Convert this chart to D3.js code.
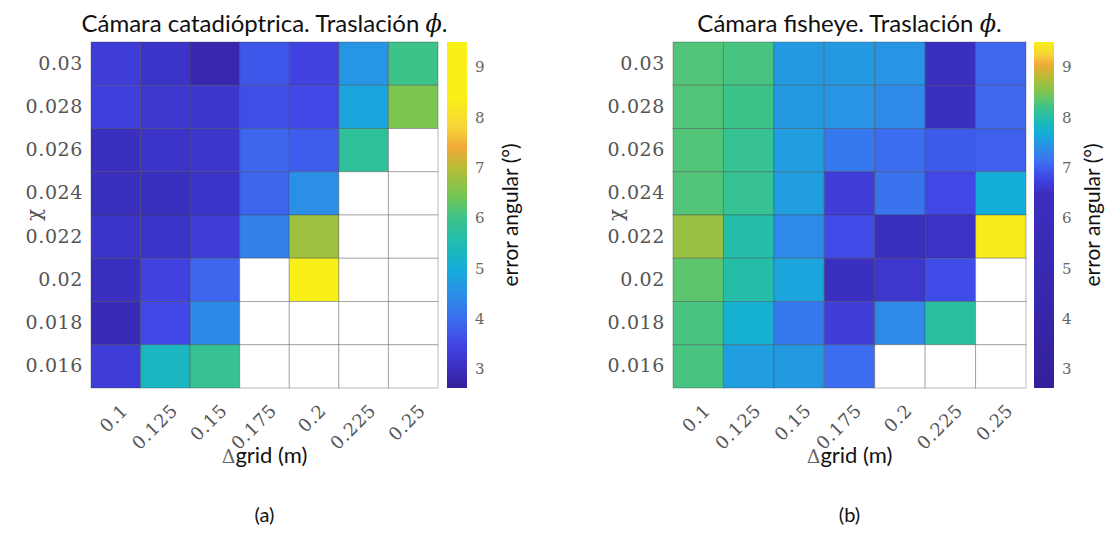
<!DOCTYPE html>
<html>
<head>
<meta charset="utf-8">
<script src="https://cdn.jsdelivr.net/npm/d3@7"></script>
<style>
    body { margin: 0; background: #fff; }
    svg text { font-family: Lato, "Open Sans", sans-serif; }
    .serif text, text.serif { font-family: "DejaVu Serif", "Liberation Serif", serif; }
</style>
</head>
<body>
<div id="chart"></div>
<script>
// categories
var gridSteps = ["0.1", "0.125", "0.15", "0.175", "0.2", "0.225", "0.25"]
var chiLevels = ["0.03", "0.028", "0.026", "0.024", "0.022", "0.02", "0.018", "0.016"]
var colorbarTicks = [3, 4, 5, 6, 7, 8, 9]
var colorbarRange = [2.62, 9.5]

// error angular (deg), rows = chi (top to bottom), cols = grid step. null = sin dato
var catadioptricError = [
    [3.3, 3.1, 2.8, 3.7, 3.4, 4.6, 6.0],
    [3.35, 3.2, 3.15, 3.6, 3.5, 4.85, 6.5],
    [3.0, 3.1, 3.15, 3.9, 3.8, 5.8, null],
    [3.0, 3.0, 3.1, 3.9, 4.5, null, null],
    [3.1, 3.1, 3.3, 4.3, 6.8, null, null],
    [3.0, 3.4, 3.9, null, 9.4, null, null],
    [2.9, 3.5, 4.4, null, null, null, null],
    [3.3, 5.3, 5.9, null, null, null, null]
]
var fisheyeError = [
    [8.3, 8.25, 7.5, 7.5, 7.45, 6.5, 7.05],
    [8.3, 8.2, 7.5, 7.45, 7.35, 6.4, 7.05],
    [8.3, 8.15, 7.55, 7.2, 7.1, 6.95, 7.0],
    [8.3, 8.15, 7.55, 6.7, 7.15, 6.8, 7.7],
    [8.65, 8.0, 7.35, 6.85, 6.5, 6.55, 9.45],
    [8.35, 8.0, 7.6, 6.4, 6.6, 6.85, null],
    [8.25, 7.75, 7.2, 6.7, 7.35, 8.05, null],
    [8.25, 7.55, 7.5, 7.1, null, null, null]
]

// parula-like colours and where they sit on each panel's colorbar
var parulaColors = ["#33209a", "#3b2fc0", "#4146e6", "#3c6df0", "#2b8fe6", "#14aed8", "#1fbcb0",
    "#3cc38a", "#7cc650", "#b8bc34", "#f0a838", "#f6d53a", "#f8f016"]
var catadioptricStops = [2.62, 3.0, 3.5, 4.0, 4.5, 5.0, 5.5, 6.0, 6.5, 7.0, 7.4, 7.8, 8.4]
var fisheyeStops = [2.62, 6.5, 6.8, 7.1, 7.4, 7.7, 7.95, 8.2, 8.5, 8.8, 9.05, 9.25, 9.5]

var svg = d3.select("#chart")
    .append("svg")
    .attr("width", 1106)
    .attr("height", 541)

var defs = svg.append("defs")

function drawPanel(p) {

    var color = d3.scaleLinear()
        .domain(p.stops)
        .range(parulaColors)
        .interpolate(d3.interpolateRgb)
        .clamp(true)

    var x = d3.scaleBand().domain(gridSteps).range([p.x0, p.x1])
    var y = d3.scaleBand().domain(chiLevels).range([p.y0, p.y1])

    var cells = []
    p.values.forEach(function (row, i) {
        row.forEach(function (v, j) {
            cells.push({ chi: chiLevels[i], grid: gridSteps[j], value: v })
        })
    })

    var g = svg.append("g")

    g.selectAll(".cell")
        .data(cells)
        .enter().append("rect")
        .attr("class", "cell")
        .attr("x", function (d) { return x(d.grid) })
        .attr("y", function (d) { return y(d.chi) })
        .attr("width", x.bandwidth())
        .attr("height", y.bandwidth())
        .attr("fill", function (d) { return d.value == null ? "#fff" : color(d.value) })
        .attr("stroke", "#3a3a3a")
        .attr("stroke-opacity", 0.35)
        .attr("stroke-width", 1)

    // axes
    var yAxisGroup = g.append("g")
        .attr("class", "serif")
        .attr("transform", "translate(" + p.x0 + ",0)")
        .call(d3.axisLeft(y).tickSize(0).tickPadding(8))
    yAxisGroup.select(".domain").remove()
    yAxisGroup.selectAll("text")
        .attr("font-size", 19)
        .attr("letter-spacing", 0.6)
        .attr("fill", "#555")

    var xAxisGroup = g.append("g")
        .attr("class", "serif")
        .attr("transform", "translate(0," + p.y1 + ")")
        .call(d3.axisBottom(x).tickSize(0))
    xAxisGroup.select(".domain").remove()
    xAxisGroup.selectAll("text")
        .attr("font-size", 18)
        .attr("letter-spacing", 0.8)
        .attr("fill", "#555")
        .attr("text-anchor", "end")
        .attr("dy", "0.35em")
        .attr("y", 0)
        .attr("transform", "translate(9,19) rotate(-45)")

    g.append("text")
        .attr("class", "serif")
        .attr("transform", "translate(" + (p.x0 - 50) + "," + ((p.y0 + p.y1) / 2) + ") rotate(-90)")
        .attr("text-anchor", "middle")
        .attr("font-size", 20)
        .attr("fill", "#555")
        .text("χ")

    // title
    var title = g.append("text")
        .attr("x", (p.x0 + p.x1) / 2)
        .attr("y", 32)
        .attr("text-anchor", "middle")
        .attr("font-size", 24)
        .attr("fill", "#111")
        .text(p.title)
    title.append("tspan")
        .attr("font-family", "DejaVu Serif, serif")
        .attr("font-style", "italic")
        .text("ϕ")
    title.append("tspan").text(".")

    // x label
    var xl = g.append("text")
        .attr("x", (p.x0 + p.x1) / 2)
        .attr("y", 463)
        .attr("text-anchor", "middle")
        .attr("font-size", 22)
        .attr("fill", "#111")
    xl.append("tspan")
        .attr("font-family", "DejaVu Serif, serif")
        .attr("font-size", 19)
        .attr("fill", "#666")
        .text("Δ")
    xl.append("tspan").text("grid (m)")

    g.append("text")
        .attr("x", (p.x0 + p.x1) / 2)
        .attr("y", 522)
        .attr("text-anchor", "middle")
        .attr("font-size", 20)
        .attr("fill", "#111")
        .text(p.caption)

    // colorbar
    var cbY = d3.scaleLinear().domain(colorbarRange).range([p.y1, p.y0])
    var grad = defs.append("linearGradient")
        .attr("id", p.id + "-grad")
        .attr("x1", 0).attr("y1", 1).attr("x2", 0).attr("y2", 0)
    d3.range(0, 81).forEach(function (i) {
        var t = i / 80
        grad.append("stop")
            .attr("offset", t)
            .attr("stop-color", color(colorbarRange[0] + t * (colorbarRange[1] - colorbarRange[0])))
    })
    g.append("rect")
        .attr("x", p.cbx)
        .attr("y", p.y0)
        .attr("width", 20)
        .attr("height", p.y1 - p.y0)
        .attr("fill", "url(#" + p.id + "-grad)")

    var cbAxis = g.append("g")
        .attr("class", "serif")
        .attr("transform", "translate(" + (p.cbx + 20) + ",0)")
        .call(d3.axisRight(cbY).tickValues(colorbarTicks).tickSize(0).tickPadding(8).tickFormat(d3.format("d")))
    cbAxis.select(".domain").remove()
    cbAxis.selectAll("text").attr("font-size", 15).attr("fill", "#666")

    g.append("text")
        .attr("transform", "translate(" + (p.cbx + p.labelOffset) + "," + ((p.y0 + p.y1) / 2) + ") rotate(-90)")
        .attr("text-anchor", "middle")
        .attr("dy", "0.35em")
        .attr("font-size", 21)
        .attr("fill", "#111")
        .text("error angular (°)")
}

drawPanel({
    id: "cat", title: "Cámara catadióptrica. Traslación ", caption: "(a)",
    values: catadioptricError, stops: catadioptricStops,
    x0: 91, x1: 438, y0: 42, y1: 388, cbx: 447, labelOffset: 64
})

drawPanel({
    id: "fish", title: "Cámara fisheye. Traslación ", caption: "(b)",
    values: fisheyeError, stops: fisheyeStops,
    x0: 673, x1: 1026, y0: 42, y1: 388, cbx: 1034, labelOffset: 59
})
</script>
</body>
</html>
